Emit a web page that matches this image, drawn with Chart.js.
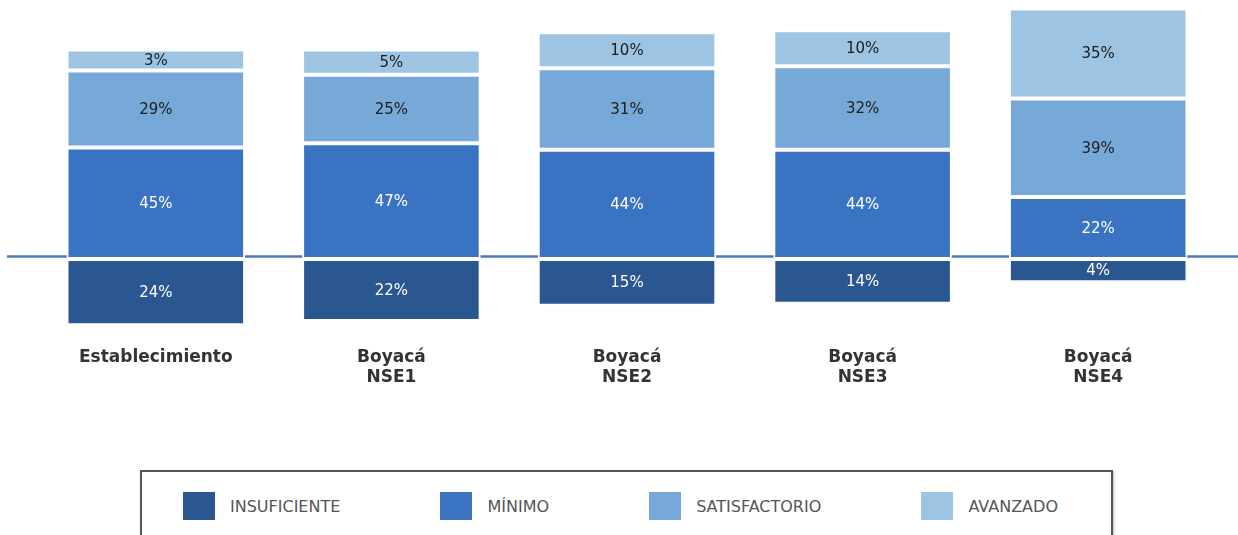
<!DOCTYPE html>
<html>
<head>
<meta charset="utf-8">
<script src="https://cdn.jsdelivr.net/npm/chart.js@4.4.1/dist/chart.umd.min.js"></script>
<style>
  body { margin: 0; background: #fff; width: 1238px; height: 535px; overflow: hidden; position: relative; font-family: "DejaVu Sans", sans-serif; }
  #wrap { position: absolute; left: 0; top: 0; width: 1238px; height: 460px; }
  #legend { position: absolute; left: 140px; top: 470px; width: 973px; height: 90px; border: 2px solid #555; box-shadow: 1px 1px 2px #bbb; display: flex; justify-content: space-between; align-items: flex-start; padding: 20px 53px 0 41px; box-sizing: border-box; }
  .item { display: flex; align-items: center; height: 28px; }
  .box { width: 32px; height: 28px; margin-right: 15px; }
  .txt { font-size: 16px; color: #555; }
</style>
</head>
<body>
<div id="wrap"><canvas id="chart"></canvas></div>
<div id="legend"></div>
<script>
// categories and level percentages
const categories = ['Establecimiento', ['Boyacá', 'NSE1'], ['Boyacá', 'NSE2'], ['Boyacá', 'NSE3'], ['Boyacá', 'NSE4']];
const insuficiente = [24, 22, 15, 14, 4];
const minimo = [45, 47, 44, 44, 22];
const satisfactorio = [29, 25, 31, 32, 39];
const avanzado = [3, 5, 10, 10, 35];

const levelNames = ['INSUFICIENTE', 'MÍNIMO', 'SATISFACTORIO', 'AVANZADO'];
const levelColors = ['#2b5790', '#3973c2', '#77a9d8', '#9dc4e3'];
const labelColors = ['#ffffff', '#ffffff', '#1c1c1c', '#1c1c1c'];

// each segment gets a fixed extra height (as the original chart does)
const PAD = 6.74;

const levels = [insuficiente, minimo, satisfactorio, avanzado];

const datasets = levels.map(function(vals, i) {
    return {
        label: levelNames[i],
        data: vals.map(v => i === 0 ? -(v + PAD) : v + PAD),
        raw: vals,
        backgroundColor: levelColors[i],
        borderColor: '#ffffff',
        borderWidth: 2,
        borderSkipped: false,
        barPercentage: 0.758,
        categoryPercentage: 1
    };
});

// horizontal zero line behind the bars
const zeroLine = {
    id: 'zeroLine',
    beforeDatasetsDraw(chart) {
        const ctx = chart.ctx;
        const y = chart.scales.y.getPixelForValue(0) - 2.5;
        ctx.save();
        ctx.strokeStyle = '#4f79b3';
        ctx.lineWidth = 2.5;
        ctx.beginPath();
        ctx.moveTo(7, y);
        ctx.lineTo(chart.width, y);
        ctx.stroke();
        ctx.restore();
    }
};

// percentage labels inside each segment
const segLabels = {
    id: 'segLabels',
    afterDatasetsDraw(chart) {
        const ctx = chart.ctx;
        ctx.save();
        ctx.font = '15px "DejaVu Sans"';
        ctx.textAlign = 'center';
        ctx.textBaseline = 'middle';
        chart.data.datasets.forEach(function(ds, di) {
            chart.getDatasetMeta(di).data.forEach(function(bar, i) {
                ctx.fillStyle = labelColors[di];
                ctx.fillText(ds.raw[i] + '%', bar.x, (bar.y + bar.base) / 2 + 1);
            });
        });
        ctx.restore();
    }
};

new Chart(document.getElementById('chart'), {
    type: 'bar',
    data: { labels: categories, datasets: datasets },
    options: {
        responsive: true,
        maintainAspectRatio: false,
        animation: false,
        layout: { padding: { left: 38, right: 22, top: 0, bottom: 75 } },
        plugins: { legend: { display: false }, tooltip: { enabled: false } },
        scales: {
            x: {
                stacked: true,
                grid: { display: false },
                border: { display: false },
                ticks: {
                    padding: -3,
                    color: '#333',
                    font: { family: 'DejaVu Sans', size: 17, weight: 'bold', lineHeight: 1.2 }
                }
            },
            y: {
                stacked: true,
                display: false,
                min: -38.6,
                max: 120.2
            }
        }
    },
    plugins: [zeroLine, segLabels]
});

// legend
const legend = document.getElementById('legend');
levelNames.forEach(function(name, i) {
    const item = document.createElement('div');
    item.className = 'item';
    item.innerHTML = '<div class="box" style="background:' + levelColors[i] + '"></div><span class="txt">' + name + '</span>';
    legend.appendChild(item);
});
</script>
</body>
</html>
